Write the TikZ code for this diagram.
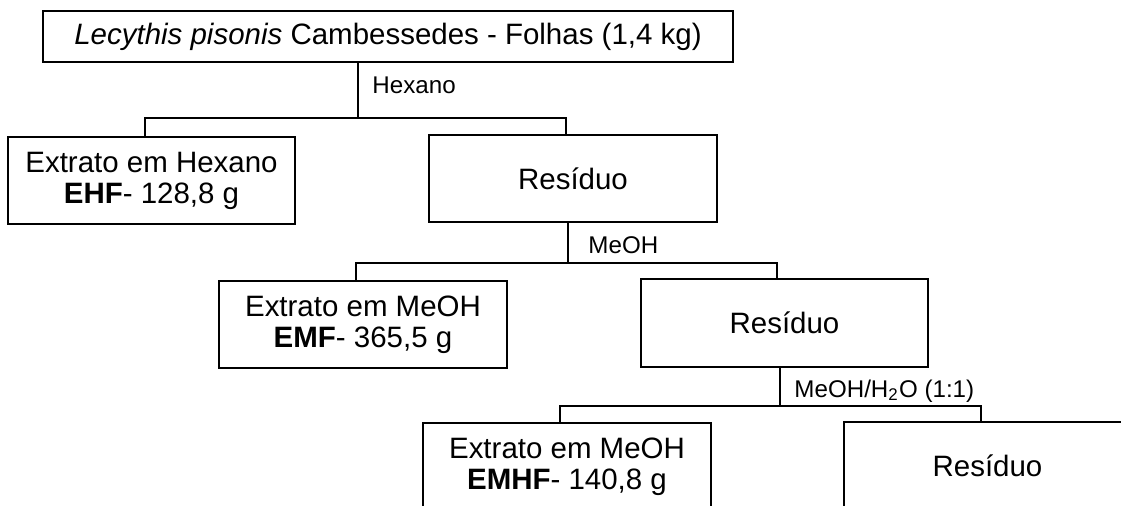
\documentclass[tikz,border=0pt]{standalone}
\usepackage{fontspec}
\setmainfont{Liberation Sans}
\begin{document}
\begin{tikzpicture}[x=0.414pt,y=-0.414pt,
    box/.style={draw,line width=0.8pt,inner sep=0pt,align=center,
      minimum width=119pt,minimum height=36.2pt,
      font=\fontsize{12.2}{12.8}\selectfont},
    res/.style={box,text height=8.8pt,text depth=0pt},
    lbl/.style={anchor=base west,inner sep=0pt,font=\fontsize{10}{12}\selectfont}]
  \useasboundingbox (0,0) rectangle (1121,505);
  \clip (0,0) rectangle (1121,505);
  \draw
    (388,36.5) node[box,minimum width=285.7pt,minimum height=21.1pt] (top)
      {\textit{Lecythis pisonis} Cambessedes - Folhas (1,4 kg)}
    (151.5,180.5) node[box] (eh) {Extrato em Hexano\\\textbf{EHF}- 128,8 g}
    (573,178.5) node[res] (r1) {Resíduo}
    (363,324.5) node[box] (emf) {Extrato em MeOH\\\textbf{EMF}- 365,5 g}
    (784.5,323) node[res] (r2) {Resíduo}
    (567,467) node[box] (emhf) {Extrato em MeOH\\\textbf{EMHF}- 140,8 g}
    (987.5,466) node[res] (r3) {Resíduo};
  \node[lbl] (hex) at (372,93) {Hexano};
  \node[lbl] (meoh) at (588,253) {MeOH};
  \node[lbl] (meohw) at (794,397) {MeOH/H\textsubscript{2}O (1:1)};
  \coordinate (j1) at (358,118);
  \coordinate (h1l) at (145,118);
  \coordinate (h1r) at (566,118);
  \coordinate (j2) at (568,263);
  \coordinate (h2l) at (356,263);
  \coordinate (h2r) at (777,263);
  \coordinate (j3) at (780,406);
  \coordinate (h3l) at (560,406);
  \coordinate (h3r) at (981,406);
  \begin{scope}[line width=0.8pt]
    \draw (top.south -| j1) to (j1);
    \draw (eh.north -| h1l) -- (h1l) -- (h1r) -- (r1.north -| h1r);
    \draw (r1.south -| j2) to (j2);
    \draw (emf.north -| h2l) -- (h2l) -- (h2r) -- (r2.north -| h2r);
    \draw (r2.south -| j3) to (j3);
    \draw (emhf.north -| h3l) -- (h3l) -- (h3r) -- (r3.north -| h3r);
  \end{scope}
\end{tikzpicture}
\end{document}
